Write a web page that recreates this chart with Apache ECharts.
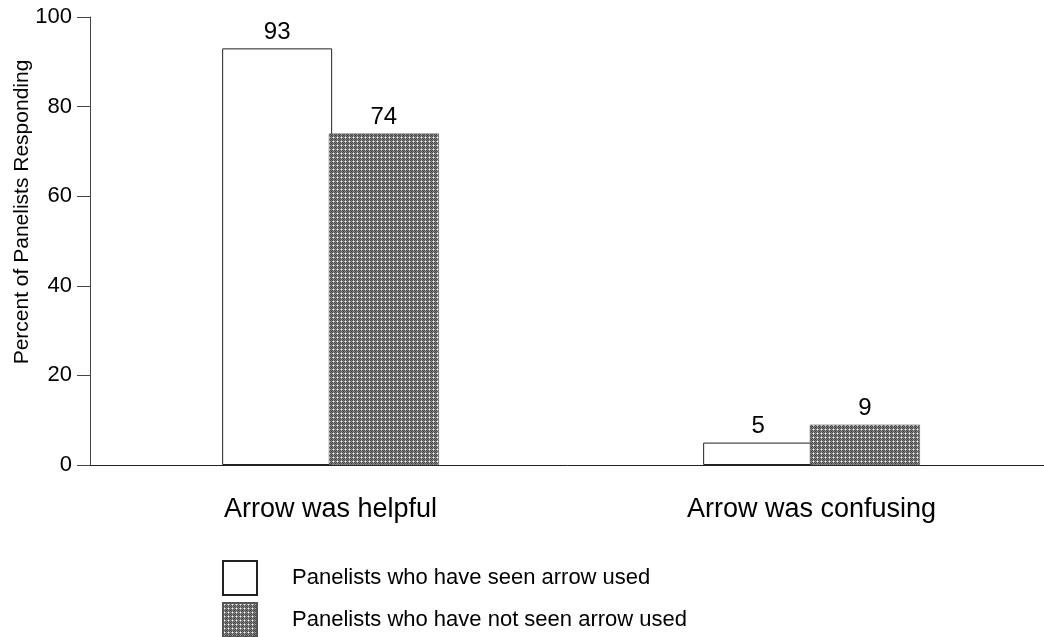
<!DOCTYPE html>
<html>
<head>
<meta charset="utf-8">
<script src="https://cdn.jsdelivr.net/npm/echarts@6/dist/echarts.min.js"></script>
<style>
  html, body { margin: 0; padding: 0; background: #fff; }
  #chart { width: 1044px; height: 637px; }
</style>
</head>
<body>
<div id="chart"></div>
<script>
// data
const categories = ['Arrow was helpful', 'Arrow was confusing']
const seenValues = [93, 5]
const notSeenValues = [74, 9]
const seriesNames = ['Panelists who have seen arrow used', 'Panelists who have not seen arrow used']
const yTicks = [0, 20, 40, 60, 80, 100]
const yTitle = 'Percent of Panelists Responding'

// dithered grey fill like the print
function makeDither() {
  const tile = [
    [70, 175, 70, 125],
    [175, 245, 175, 95],
    [70, 175, 70, 125],
    [125, 95, 125, 60]
  ]
  const c = document.createElement('canvas')
  c.width = 4
  c.height = 4
  const ctx = c.getContext('2d')
  for (let y = 0; y < 4; y++) {
    for (let x = 0; x < 4; x++) {
      const v = tile[y][x]
      ctx.fillStyle = 'rgb(' + v + ',' + v + ',' + v + ')'
      ctx.fillRect(x, y, 1, 1)
    }
  }
  return c
}

const font = '"Liberation Sans", Arial, sans-serif'
const chart = echarts.init(document.getElementById('chart'), null, {renderer: 'canvas'})

// one legend per series so the two rows stack like the print
function legendRow(name, top) {
  return {
    orient: 'vertical',
    left: 222,
    top: top,
    padding: 0,
    icon: 'rect',
    itemWidth: 34,
    itemHeight: 34,
    textStyle: {
      fontFamily: font,
      fontSize: 22,
      color: '#000',
      padding: [0, 0, 0, 30]
    },
    data: [name]
  }
}

const option = {
  animation: false,
  textStyle: {fontFamily: font, color: '#000'},
  grid: {
    left: 90,
    top: 17,
    width: 962,
    bottom: 172,
    containLabel: false,
    outerBoundsMode: 'none'
  },
  // y title sits above the axis middle in the print
  graphic: [{
    type: 'text',
    x: 22,
    y: 212,
    rotation: Math.PI / 2,
    style: {
      text: yTitle,
      font: '21px ' + font,
      fill: '#000',
      align: 'center',
      verticalAlign: 'middle'
    }
  }],
  legend: [
    legendRow(seriesNames[0], 560),
    legendRow(seriesNames[1], 602)
  ],
  xAxis: {
    type: 'category',
    data: categories,
    axisLine: {lineStyle: {color: '#222', width: 1}},
    axisTick: {alignWithLabel: true, length: 13, lineStyle: {color: '#444'}},
    axisLabel: {fontFamily: font, fontSize: 27, color: '#000', margin: 31}
  },
  yAxis: {
    type: 'value',
    min: yTicks[0],
    max: yTicks[yTicks.length - 1],
    interval: yTicks[1] - yTicks[0],
    splitLine: {show: false},
    axisLine: {show: true, lineStyle: {color: '#444', width: 1}},
    axisTick: {show: true, length: 13, lineStyle: {color: '#444'}},
    axisLabel: {fontFamily: font, fontSize: 22, color: '#000', margin: 18}
  },
  series: [
    {
      name: seriesNames[0],
      type: 'bar',
      data: seenValues,
      barWidth: 110,
      barGap: '-3%',
      itemStyle: {color: '#fff', borderColor: '#222', borderWidth: 1},
      label: {show: true, position: 'top', distance: 4, fontFamily: font, fontSize: 24, color: '#000'}
    },
    {
      name: seriesNames[1],
      type: 'bar',
      data: notSeenValues,
      barWidth: 110,
      itemStyle: {color: {image: makeDither(), repeat: 'repeat'}, borderColor: '#555', borderWidth: 0.5},
      label: {show: true, position: 'top', distance: 4, fontFamily: font, fontSize: 24, color: '#000'}
    }
  ]
}

chart.setOption(option)
</script>
</body>
</html>
